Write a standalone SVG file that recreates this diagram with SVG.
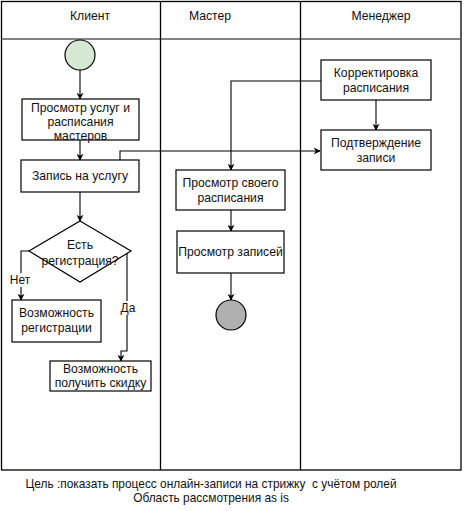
<svg xmlns="http://www.w3.org/2000/svg" width="464" height="511" viewBox="0 0 464 511">
  <style>
    .lane { fill: none; stroke: #000; stroke-width: 1.3; }
    .hdr { fill: none; stroke: #5a5a5a; stroke-width: 1.6; }
    .box { fill: #fff; stroke: #000; stroke-width: 1.2; }
    .txt { font-family: "Liberation Sans", Arial, sans-serif; font-size: 12.2px; fill: #111; text-anchor: middle; }
    .head { font-family: "Liberation Sans", Arial, sans-serif; font-size: 12.2px; fill: #111; text-anchor: middle; }
    .edge { fill: none; stroke: #000; stroke-width: 1.1; }
    .lbl { font-family: "Liberation Sans", Arial, sans-serif; font-size: 12px; fill: #111; text-anchor: middle; }
    .cap { font-family: "Liberation Sans", Arial, sans-serif; font-size: 11.9px; fill: #111; text-anchor: middle; white-space: pre; }
  </style>
  <defs>
    <marker id="arrow" viewBox="0 0 10 10" refX="9" refY="5" markerWidth="7" markerHeight="7" orient="auto" markerUnits="userSpaceOnUse">
      <path d="M0,0 L10,5 L0,10 L3,5 Z" fill="#000"/>
    </marker>
  </defs>

  <rect width="464" height="511" fill="#fff"/>

  <!-- swimlanes -->
  <g id="lanes">
    <rect class="lane" x="1.5" y="1.5" width="459.5" height="468.5"/>
    <line class="hdr" x1="1.5" y1="39" x2="461" y2="39"/>
    <line class="lane" x1="160.5" y1="1.5" x2="160.5" y2="470"/>
    <line class="lane" x1="300.5" y1="1.5" x2="300.5" y2="470"/>
    <text class="head" x="90" y="20">Клиент</text>
    <text class="head" x="210" y="20">Мастер</text>
    <text class="head" x="381" y="20">Менеджер</text>
  </g>

  <!-- connectors -->
  <g id="connectors">
    <line class="edge" x1="80" y1="70" x2="80" y2="99" marker-end="url(#arrow)"/>
    <line class="edge" x1="80" y1="140" x2="80" y2="160" marker-end="url(#arrow)"/>
    <line class="edge" x1="80" y1="192" x2="80" y2="221" marker-end="url(#arrow)"/>
    <polyline class="edge" points="120,160 120,151 320,151" marker-end="url(#arrow)"/>
    <polyline class="edge" points="321,81 231,81 231,170" marker-end="url(#arrow)"/>
    <line class="edge" x1="376" y1="100" x2="376" y2="130" marker-end="url(#arrow)"/>
    <line class="edge" x1="231" y1="210" x2="231" y2="231" marker-end="url(#arrow)"/>
    <line class="edge" x1="231" y1="273" x2="231" y2="300" marker-end="url(#arrow)"/>
    <polyline class="edge" points="29,251 21,251 21,300" marker-end="url(#arrow)"/>
    <polyline class="edge" points="127,253 127,351 121,351 121,361" marker-end="url(#arrow)"/>
    <rect x="8" y="273" width="24" height="14" fill="#fff"/>
    <text class="lbl" x="20" y="284">Нет</text>
    <rect x="120" y="301" width="16" height="14" fill="#fff"/>
    <text class="lbl" x="128" y="312">Да</text>
  </g>

  <!-- Client lane -->
  <g id="start">
    <circle cx="80" cy="55" r="15" fill="#d5e8d4" stroke="#000" stroke-width="1.2"/>
  </g>
  <g id="view-services">
    <rect class="box" x="22" y="99" width="117" height="41"/>
    <text class="txt" x="80.5" y="112">Просмотр услуг и</text>
    <text class="txt" x="80.5" y="126">расписания</text>
    <text class="txt" x="80.5" y="140">мастеров</text>
  </g>
  <g id="book-service">
    <rect class="box" x="21" y="160" width="118" height="32"/>
    <text class="txt" x="80" y="180">Запись на услугу</text>
  </g>
  <g id="has-registration">
    <polygon class="box" points="80,221 131,251 80,282 29,251"/>
    <text class="txt" x="80" y="249">Есть</text>
    <text class="txt" x="80" y="265">регистрация?</text>
  </g>
  <g id="registration">
    <rect class="box" x="12" y="300" width="89" height="42"/>
    <text class="txt" x="56.5" y="317">Возможность</text>
    <text class="txt" x="56.5" y="332">регистрации</text>
  </g>
  <g id="discount">
    <rect class="box" x="50" y="361" width="101" height="30"/>
    <text class="txt" x="100.5" y="373">Возможность</text>
    <text class="txt" x="100.5" y="387">получить скидку</text>
  </g>

  <!-- Master lane -->
  <g id="own-schedule">
    <rect class="box" x="176" y="170" width="109" height="40"/>
    <text class="txt" x="230.5" y="187">Просмотр своего</text>
    <text class="txt" x="230.5" y="202">расписания</text>
  </g>
  <g id="view-bookings">
    <rect class="box" x="177" y="231" width="107" height="42"/>
    <text class="txt" x="230.5" y="256">Просмотр записей</text>
  </g>
  <g id="end">
    <circle cx="231" cy="315" r="15" fill="#b0b0b0" stroke="#000" stroke-width="1.2"/>
  </g>

  <!-- Manager lane -->
  <g id="adjust-schedule">
    <rect class="box" x="321" y="60" width="110" height="40"/>
    <text class="txt" x="376" y="77">Корректировка</text>
    <text class="txt" x="376" y="92">расписания</text>
  </g>
  <g id="confirm-booking">
    <rect class="box" x="321" y="130" width="110" height="40"/>
    <text class="txt" x="376" y="147">Подтверждение</text>
    <text class="txt" x="376" y="162">записи</text>
  </g>

  <!-- caption -->
  <g id="caption">
    <text class="cap" x="211" y="488">Цель :показать процесс онлайн-записи на стрижку  с учётом ролей</text>
    <text class="cap" x="211" y="502">Область рассмотрения as is</text>
  </g>
</svg>
